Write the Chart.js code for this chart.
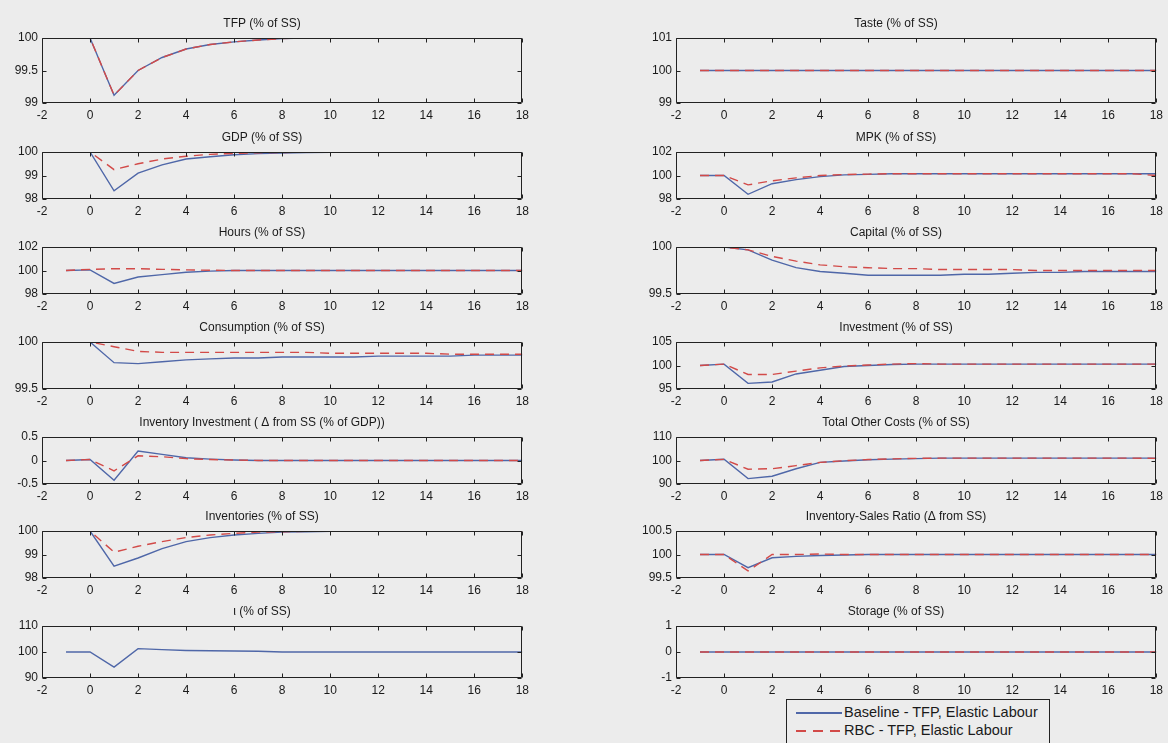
<!DOCTYPE html>
<html>
<head>
<meta charset="utf-8">
<script src="https://cdn.jsdelivr.net/npm/chart.js@4.4.1/dist/chart.umd.min.js"></script>
<style>
body{margin:0;background:#ececec;width:1168px;height:743px;overflow:hidden;position:relative;font-family:"Liberation Sans",Arial,sans-serif}
canvas{position:absolute}
#legend{position:absolute;left:786px;top:699px;width:264px;height:50px;border:1px solid #222;box-sizing:border-box;font-size:14.5px;color:#1a1a1a}
#legend div{height:18px;line-height:18px;padding-left:9px;white-space:nowrap}
#legend div:first-child{margin-top:3px}
#legend span{display:inline-block;width:46px;height:1.5px;vertical-align:middle;margin-right:2px}
</style>
</head>
<body>
<div id="legend">
  <div><span style="background:#4f67a8"></span>Baseline - TFP, Elastic Labour</div>
  <div><span style="background:repeating-linear-gradient(90deg,#d24a48 0 10px,transparent 10px 17px)"></span>RBC - TFP, Elastic Labour</div>
</div>
<script>
// periods after the shock
const periods = [-1,0,1,2,3,4,5,6,7,8,9,10,11,12,13,14,15,16,17,18]
const xTicks = [-2,0,2,4,6,8,10,12,14,16,18]

// left column
const tfpBase = [100,100,99.12,99.5,99.7,99.83,99.9,99.94,99.97,99.99,100,100,100,100,100,100,100,100,100,100]
const tfpRbc  = [100,100,99.12,99.5,99.7,99.83,99.9,99.94,99.97,99.99,100,100,100,100,100,100,100,100,100,100]
const gdpBase = [100,100,98.35,99.1,99.45,99.7,99.8,99.88,99.93,99.96,99.98,99.99,100,100,100,100,100,100,100,100]
const gdpRbc  = [100,100,99.25,99.5,99.7,99.82,99.9,99.94,99.97,99.98,100,100,100,100,100,100,100,100,100,100]
const hoursBase = [100,100.05,98.9,99.45,99.65,99.85,99.95,100,100,100,100,100,100,100,100,100,100,100,100,100]
const hoursRbc  = [100,100.1,100.15,100.15,100.1,100.05,100.02,100,100,100,100,100,100,100,100,100,100,100,100,100]
const consBase = [100,100,99.78,99.77,99.79,99.81,99.82,99.83,99.83,99.84,99.84,99.84,99.84,99.85,99.85,99.85,99.85,99.86,99.86,99.86]
const consRbc  = [100,100,99.95,99.9,99.89,99.89,99.89,99.89,99.89,99.89,99.89,99.88,99.88,99.88,99.88,99.88,99.87,99.87,99.87,99.87]
const invInvBase = [0,0.02,-0.42,0.2,0.13,0.06,0.03,0.01,0,0,0,0,0,0,0,0,0,0,0,0]
const invInvRbc  = [0,0.02,-0.22,0.1,0.08,0.04,0.02,0.01,0,0,0,0,0,0,0,0,0,0,0,0]
const invBase = [100,100,98.5,98.85,99.25,99.55,99.72,99.83,99.9,99.95,99.97,99.99,100,100,100,100,100,100,100,100]
const invRbc  = [100,100,99.1,99.35,99.55,99.72,99.83,99.9,99.95,99.97,99.99,100,100,100,100,100,100,100,100,100]
const iotaBase = [100,100,94.2,101.3,100.9,100.6,100.5,100.4,100.3,100,100,100,100,100,100,100,100,100,100,100]

// right column
const tasteBase = [100,100,100,100,100,100,100,100,100,100,100,100,100,100,100,100,100,100,100,100]
const tasteRbc  = [100,100,100,100,100,100,100,100,100,100,100,100,100,100,100,100,100,100,100,100]
const mpkBase = [100,100,98.4,99.3,99.65,99.9,100.05,100.1,100.15,100.15,100.15,100.15,100.15,100.15,100.15,100.15,100.15,100.15,100.15,100.15]
const mpkRbc  = [100,100,99.2,99.55,99.8,100,100.08,100.12,100.15,100.15,100.15,100.15,100.15,100.15,100.15,100.15,100.15,100.15,100.15,100]
const capBase = [100,100,99.97,99.86,99.78,99.74,99.72,99.7,99.7,99.7,99.7,99.71,99.71,99.72,99.73,99.73,99.74,99.74,99.74,99.74]
const capRbc  = [100,100,99.97,99.9,99.85,99.81,99.79,99.78,99.77,99.77,99.76,99.76,99.76,99.76,99.75,99.75,99.75,99.75,99.75,99.75]
const investBase = [100,100.3,96.2,96.5,98.2,99,99.8,100,100.2,100.3,100.3,100.3,100.3,100.3,100.3,100.3,100.3,100.3,100.3,100.3]
const investRbc  = [100,100.3,98.1,98.1,98.8,99.5,99.9,100.1,100.3,100.4,100.3,100.3,100.3,100.3,100.3,100.3,100.3,100.3,100.3,100.3]
const costsBase = [100,100.5,92.3,93.3,96.5,99.2,99.8,100.3,100.6,100.8,101,101,101,101,101,101,101,101,101,101]
const costsRbc  = [100,100.5,96.3,96.5,97.8,99.2,99.9,100.4,100.7,100.9,101,101,101,101,101,101,101,101,101,100.9]
const isrBase = [100,100,99.72,99.93,99.96,99.98,99.99,100,100,100,100,100,100,100,100,100,100,100,100,100]
const isrRbc  = [100,100,99.65,100,100,100.01,100,100,100,100,100,100,100,100,100,100,100,100,100,100]
const storageBase = [0,0,0,0,0,0,0,0,0,0,0,0,0,0,0,0,0,0,0,0]
const storageRbc  = [0,0,0,0,0,0,0,0,0,0,0,0,0,0,0,0,0,0,0,0]

// page layout (box top / box height per row, box left per column)
const rowTop = [38,152,247,342,437,531,626]
const rowH = [65,47,47,47,47,47,52]
const colLeft = [42,676]
const plotW = 482
const yAxisW = 42, titleH = 23, xAxisH = 22

const blue = '#4f67a8', red = '#d24a48', ink = '#1a1a1a'
const fontFam = '"Liberation Sans", Arial, sans-serif'

// box around plot with inward ticks on all sides (matlab look)
const matlabBox = {
    id:'matlabBox',
    afterDatasetsDraw(chart){
        const {ctx, chartArea:a, scales:{x,y}} = chart
        const L = Math.round(a.left)+0.5, R = Math.round(a.right)-0.5
        const T = Math.round(a.top)+0.5, B = Math.round(a.bottom)-0.5
        ctx.save()
        ctx.strokeStyle = '#222'
        ctx.lineWidth = 1
        ctx.beginPath()
        ctx.moveTo(L,T); ctx.lineTo(R,T); ctx.lineTo(R,B); ctx.lineTo(L,B); ctx.closePath()
        x.ticks.forEach(t=>{
            const px = Math.round(x.getPixelForValue(t.value))+0.5
            ctx.moveTo(px,B); ctx.lineTo(px,B-4)
            ctx.moveTo(px,T); ctx.lineTo(px,T+4)
        })
        y.ticks.forEach(t=>{
            const py = Math.round(y.getPixelForValue(t.value))+0.5
            ctx.moveTo(L,py); ctx.lineTo(L+4,py)
            ctx.moveTo(R,py); ctx.lineTo(R-4,py)
        })
        ctx.stroke()
        ctx.restore()
    }
}

function panel(col,row,title,yMin,yMax,yStep,base,rbc){
    const c = document.createElement('canvas')
    const w = yAxisW + plotW + 10
    const h = titleH + rowH[row] + xAxisH
    c.width = w; c.height = h
    c.style.left = (colLeft[col]-yAxisW)+'px'
    c.style.top = (rowTop[row]-titleH)+'px'
    document.body.appendChild(c)

    const datasets = [{
        data: periods.map((p,i)=>({x:p,y:base[i]})),
        borderColor: blue, borderWidth: 1.4, pointRadius: 0, order: 1
    }]
    if(rbc){
        datasets.push({
            data: periods.map((p,i)=>({x:p,y:rbc[i]})),
            borderColor: red, borderWidth: 1.4, borderDash:[9,6], pointRadius: 0, order: 0
        })
    }

    new Chart(c, {
        type:'line',
        data:{datasets},
        options:{
            responsive:false,
            animation:false,
            layout:{padding:{left:0,right:10,top:0,bottom:0}},
            plugins:{
                legend:{display:false},
                tooltip:{enabled:false},
                title:{display:true,text:title,color:ink,font:{family:fontFam,size:12,weight:'normal'},padding:{top:1,bottom:7.6}}
            },
            scales:{
                x:{
                    type:'linear', min:-2, max:18,
                    afterBuildTicks: s => { s.ticks = xTicks.map(v=>({value:v})) },
                    afterFit: s => { s.height = xAxisH },
                    grid:{display:false,drawTicks:false}, border:{display:false},
                    ticks:{color:ink,font:{family:fontFam,size:12},padding:5,maxRotation:0,autoSkip:false}
                },
                y:{
                    min:yMin, max:yMax,
                    afterFit: s => { s.width = yAxisW },
                    grid:{display:false,drawTicks:false}, border:{display:false},
                    ticks:{stepSize:yStep,color:ink,font:{family:fontFam,size:12},padding:4,
                        callback: v => String(+v.toFixed(2))}
                }
            }
        },
        plugins:[matlabBox]
    })
}

panel(0,0,'TFP (% of SS)',99,100,0.5,tfpBase,tfpRbc)
panel(0,1,'GDP (% of SS)',98,100,1,gdpBase,gdpRbc)
panel(0,2,'Hours (% of SS)',98,102,2,hoursBase,hoursRbc)
panel(0,3,'Consumption (% of SS)',99.5,100,0.5,consBase,consRbc)
panel(0,4,'Inventory Investment ( \u0394 from SS (% of GDP))',-0.5,0.5,0.5,invInvBase,invInvRbc)
panel(0,5,'Inventories (% of SS)',98,100,1,invBase,invRbc)
panel(0,6,'\u03b9 (% of SS)',90,110,10,iotaBase,null)

panel(1,0,'Taste (% of SS)',99,101,1,tasteBase,tasteRbc)
panel(1,1,'MPK (% of SS)',98,102,2,mpkBase,mpkRbc)
panel(1,2,'Capital (% of SS)',99.5,100,0.5,capBase,capRbc)
panel(1,3,'Investment (% of SS)',95,105,5,investBase,investRbc)
panel(1,4,'Total Other Costs (% of SS)',90,110,10,costsBase,costsRbc)
panel(1,5,'Inventory-Sales Ratio (\u0394 from SS)',99.5,100.5,0.5,isrBase,isrRbc)
panel(1,6,'Storage (% of SS)',-1,1,1,storageBase,storageRbc)
</script>
</body>
</html>
